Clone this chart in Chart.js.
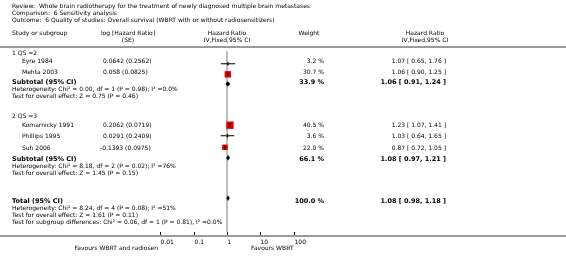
<!DOCTYPE html>
<html>
<head>
<meta charset="utf-8">
<script src="https://cdn.jsdelivr.net/npm/chart.js@4.4.1/dist/chart.umd.min.js"></script>
<style>
	html, body { margin: 0; padding: 0; background: #fff; }
	#wrap { width: 566px; height: 260px; position: relative; }
</style>
</head>
<body>
<div id="wrap"><canvas id="forest" width="566" height="260"></canvas></div>
<script>
// ---- data ----
var groups = ['1 QS =2', '2 QS =3'];
var studyGroup = [0, 0, 1, 1, 1];
var studies = ['Eyre 1984', 'Mehta 2003', 'Komarnicky 1991', 'Phillips 1995', 'Suh 2006'];
var logHR = ['0.0642', '0.058', '0.2062', '0.0291', '-0.1393'];
var seLogHR = ['0.2562', '0.0825', '0.0719', '0.2409', '0.0975'];
var weights = [3.2, 30.7, 40.5, 3.6, 22.0];
var hr = [1.07, 1.06, 1.23, 1.03, 0.87];
var ciLow = [0.65, 0.90, 1.07, 0.64, 0.72];
var ciHigh = [1.76, 1.25, 1.41, 1.65, 1.05];

var pooledNames = ['Subtotal (95% CI)', 'Subtotal (95% CI)', 'Total (95% CI)'];
var pooledWeights = [33.9, 66.1, 100.0];
var pooledHR = [1.06, 1.08, 1.08];
var pooledLow = [0.91, 0.97, 0.98];
var pooledHigh = [1.24, 1.21, 1.18];
var pooledNotes = [
	['Heterogeneity: Chi\u00b2 = 0.00, df = 1 (P = 0.98); I\u00b2 =0.0%', 'Test for overall effect: Z = 0.75 (P = 0.46)'],
	['Heterogeneity: Chi\u00b2 = 8.18, df = 2 (P = 0.02); I\u00b2 =76%', 'Test for overall effect: Z = 1.45 (P = 0.15)'],
	['Heterogeneity: Chi\u00b2 = 8.24, df = 4 (P = 0.08); I\u00b2 =51%', 'Test for overall effect: Z = 1.61 (P = 0.11)',
	 'Test for subgroup differences: Chi\u00b2 = 0.06, df = 1 (P = 0.81), I\u00b2 =0.0%']
];

var xTicks = [0.01, 0.1, 1, 10, 100];
var headerLines = [
	'Review:  Whole brain radiotherapy for the treatment of newly diagnosed multiple brain metastases',
	'Comparison:  6 Sensitivity analysis',
	'Outcome:  6 Quality of studies: Overall survival (WBRT with or without radiosensitizers)'
];
var favourLeft = 'Favours WBRT and radiosen';
var favourRight = 'Favours WBRT';

// ---- layout (pixel rows, y scale is 1 unit = 1 px) ----
var groupRowY = [53, 116];
var studyRowY = [61, 72, 125, 136, 148];
var pooledRowY = [82, 159, 201];
var headerRuleY = 47;
var axisY = 236;

var RED = '#e00000';
var small = '6px "DejaVu Sans"';
var bold = 'bold 6.5px "DejaVu Sans"';

function fmt(v) { return v.toFixed(2); }

var datasets = [];

// cross marks at the point estimate
datasets.push({
	type: 'scatter',
	data: hr.map((v, i) => ({x: v, y: studyRowY[i]})),
	pointStyle: 'line',
	rotation: 90,
	pointRadius: 1.8,
	borderColor: '#000',
	borderWidth: 1
});

// weighted squares
datasets.push({
	type: 'scatter',
	data: hr.map((v, i) => ({x: v, y: studyRowY[i]})),
	pointStyle: 'rect',
	pointRadius: weights.map(w => Math.sqrt(w) * 0.82),
	backgroundColor: RED,
	borderWidth: 0
});

// confidence interval lines
studies.forEach((s, i) => {
	datasets.push({
		type: 'line',
		data: [{x: ciLow[i], y: studyRowY[i]}, {x: ciHigh[i], y: studyRowY[i]}],
		borderColor: '#000',
		borderWidth: 1,
		pointRadius: 0
	});
});

// pooled diamonds
pooledHR.forEach((v, i) => {
	let y = pooledRowY[i];
	datasets.push({
		type: 'line',
		data: [
			{x: pooledLow[i], y: y},
			{x: v, y: y - 2.5},
			{x: pooledHigh[i], y: y},
			{x: v, y: y + 2.5},
			{x: pooledLow[i], y: y}
		],
		borderColor: '#000',
		backgroundColor: '#000',
		borderWidth: 0.5,
		pointRadius: 0,
		fill: 'shape'
	});
});

// line of no effect
datasets.push({
	type: 'line',
	data: [{x: 1, y: headerRuleY + 1}, {x: 1, y: axisY}],
	borderColor: '#b4b4b4',
	borderWidth: 1,
	pointRadius: 0
});

var textPlugin = {
	id: 'forestText',
	beforeDatasetsDraw(chart) {
		let ctx = chart.ctx;
		let W = chart.width;
		ctx.save();
		ctx.fillStyle = '#9a9a9a';
		ctx.fillRect(0, headerRuleY - 1, W, 2);
		ctx.fillRect(0, axisY - 1, W, 2);
		ctx.restore();
	},
	afterDatasetsDraw(chart) {
		let ctx = chart.ctx;
		let xs = chart.scales.x;
		ctx.save();
		ctx.fillStyle = '#000';
		ctx.textBaseline = 'middle';

		ctx.font = small;
		ctx.textAlign = 'left';
		headerLines.forEach((t, i) => ctx.fillText(t, 12, 6 + i * 7));

		// column headers
		ctx.fillText('Study or subgroup', 12, 33);
		ctx.textAlign = 'center';
		ctx.fillText('log [Hazard Ratio]', 128, 33);
		ctx.fillText('(SE)', 128, 40);
		ctx.fillText('Hazard Ratio', xs.getPixelForValue(1), 33);
		ctx.fillText('IV,Fixed,95% CI', xs.getPixelForValue(1), 40);
		ctx.fillText('Weight', 309, 33);
		ctx.fillText('Hazard Ratio', 425, 33);
		ctx.fillText('IV,Fixed,95% CI', 425, 40);

		// group labels
		ctx.textAlign = 'left';
		groups.forEach((g, i) => ctx.fillText(g, 12, groupRowY[i]));

		// study rows
		studies.forEach((s, i) => {
			let y = studyRowY[i];
			ctx.font = small;
			ctx.textAlign = 'left';
			ctx.fillText(s, 22, y);
			ctx.fillText(logHR[i] + ' (' + seLogHR[i] + ')', logHR[i][0] === '-' ? 100 : 103, y);
			ctx.textAlign = 'right';
			ctx.fillText(weights[i].toFixed(1) + ' %', 324, y);
			ctx.fillText(fmt(hr[i]) + ' [ ' + fmt(ciLow[i]) + ', ' + fmt(ciHigh[i]) + ' ]', 446, y);
		});

		// pooled rows
		pooledNames.forEach((n, i) => {
			let y = pooledRowY[i];
			ctx.font = bold;
			ctx.textAlign = 'left';
			ctx.fillText(n, 12, y);
			ctx.textAlign = 'right';
			ctx.fillText(pooledWeights[i].toFixed(1) + ' %', 324, y);
			ctx.fillText(fmt(pooledHR[i]) + ' [ ' + fmt(pooledLow[i]) + ', ' + fmt(pooledHigh[i]) + ' ]', 446, y);
			ctx.font = small;
			ctx.textAlign = 'left';
			pooledNotes[i].forEach((t, k) => ctx.fillText(t, 12, y + 7.5 + k * 7));
		});

		// axis ticks and labels
		ctx.strokeStyle = '#000';
		ctx.lineWidth = 1;
		xTicks.forEach(v => {
			let px = Math.round(xs.getPixelForValue(v)) + 0.5;
			ctx.beginPath();
			ctx.moveTo(px, axisY - 4);
			ctx.lineTo(px, axisY - 1);
			ctx.stroke();
			ctx.textAlign = 'left';
			ctx.fillText(String(v), px, axisY + 6);
		});

		ctx.textAlign = 'right';
		ctx.fillText(favourLeft, 158, axisY + 12);
		ctx.textAlign = 'left';
		ctx.fillText(favourRight, 251, axisY + 12);
		ctx.restore();
	}
};

new Chart(document.getElementById('forest').getContext('2d'), {
	data: { datasets: datasets },
	options: {
		responsive: false,
		animation: false,
		events: [],
		layout: { padding: { left: 160.4, right: 566 - 293.6, top: 0, bottom: 0 } },
		plugins: { legend: { display: false }, tooltip: { enabled: false } },
		scales: {
			x: { type: 'logarithmic', min: 0.01, max: 100, display: false },
			y: { type: 'linear', min: 0, max: 260, reverse: true, display: false }
		},
		elements: { line: { tension: 0 } },
		clip: false
	},
	plugins: [textPlugin]
});
</script>
</body>
</html>
